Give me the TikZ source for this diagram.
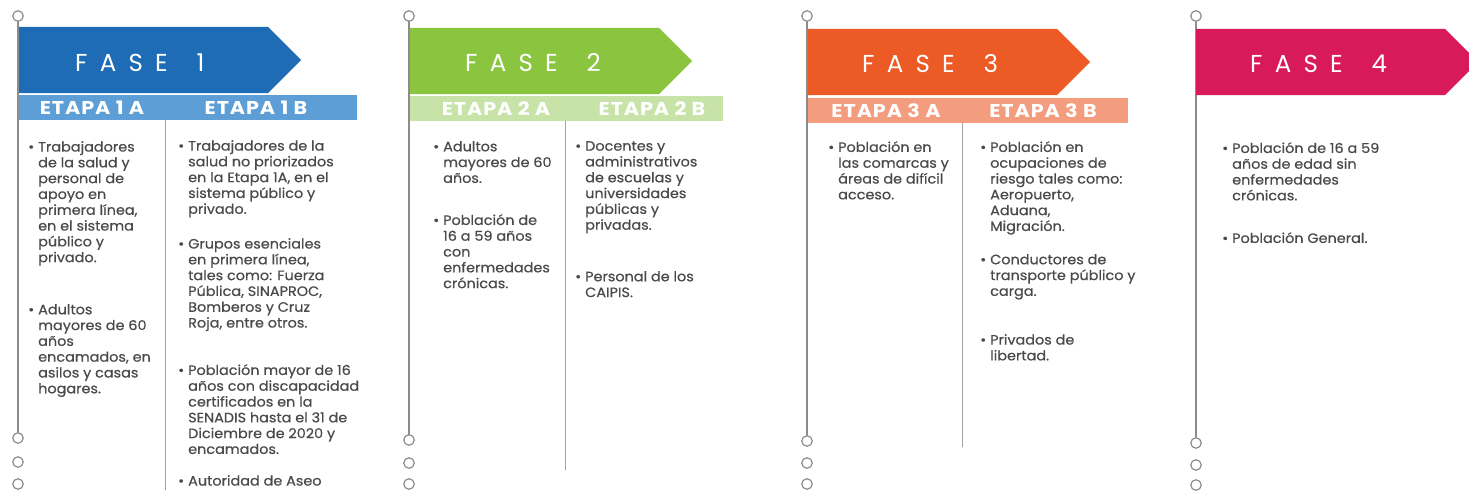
\documentclass[tikz,border=0pt]{standalone}
\usepackage{fontspec}
\setmainfont{Poppins}[FakeStretch=1.06,FakeBold=0.6]
\newfontfamily\fasefont[LetterSpace=50]{Poppins}
\newfontfamily\etapafont[LetterSpace=5,FakeStretch=1.12]{Poppins}
\definecolor{azul}{HTML}{1D6CB5}
\definecolor{azulcl}{HTML}{5D9ED6}
\definecolor{verde}{HTML}{8BC540}
\definecolor{verdecl}{HTML}{C8E3A8}
\definecolor{naranja}{HTML}{EC5A26}
\definecolor{naranjacl}{HTML}{F39C7E}
\definecolor{rosa}{HTML}{D81A5B}
\definecolor{texto}{HTML}{4A4A4A}
\definecolor{poste}{HTML}{8C8C8C}
\newcommand{\vin}{\llap{\textbullet\hspace{4pt}}}
\begin{document}
\begin{tikzpicture}[x=1pt,y=-1pt,line join=round,line cap=round,
	ring/.style={circle,draw=poste,line width=1.2pt,fill=white,minimum size=10.5pt,inner sep=0pt},
	poste/.style={draw=poste,line width=1.5pt},
	sep/.style={draw=poste!80,line width=0.9pt},
	fase/.style={anchor=base west,inner sep=0pt,text=white,font=\fasefont\fontsize{24.5}{24}\selectfont},
	etapa/.style={inner sep=0pt,text=white,font=\etapafont\bfseries\fontsize{18.5}{18}\selectfont},
	item/.style={anchor=north west,align=left,inner sep=0pt,text=texto,font=\fontsize{13.6}{15.8}\selectfont}]
	\useasboundingbox (0,0) rectangle (1469,495);
	%\draw[gray!30] (0,0) grid[step=50] (1469,495);
	% postes y anillos
	\foreach \x/\n/\a/\b/\c in {18/1/438/462/484, 409/2/440/463/484, 807/3/441/463/484, 1196/4/443/465/485}{
		\node[ring] (top\n) at (\x,16) {};
		\node[ring] (bot\n) at (\x,\a) {};
		\draw[poste] (top\n) -- (bot\n);
		\node[ring] (dos\n) at (\x,\b) {};
		\node[ring] (tres\n) at (\x,\c) {};
	}
	% banderas
	\foreach \x/\y/\c in {19/27/azul, 410/28/verde, 808/29/naranja, 1196/29/rosa}
	\fill[\c] (\x,\y) -- ++(249,0) -- ++(33,33) -- ++(-33,33) -- ++(-249,0) -- cycle;
	\fill[azulcl] (19,95) rectangle (357,120);
	\fill[verdecl] (410,96) rectangle (723,121);
	\fill[naranjacl] (808,98) rectangle (1128,123);
	\draw[sep] (165,120) -- (165,490);
	\draw[sep] (565,121) -- (565,470);
	\draw[sep] (962,123) -- (962,447);
	% titulos
	\node[fase] (f1) at (75,71) {FASE\hspace{10pt} 1};
	\node[fase] (f2) at (465,71) {FASE\hspace{10pt} 2};
	\node[fase] (f3) at (862,73) {FASE\hspace{10pt} 3};
	\node[fase] (f4) at (1250,73) {FASE\hspace{10pt} 4};
	\node[etapa] (e1a) at (92,108) {ETAPA 1 A};
	\node[etapa] (e1b) at (256,108) {ETAPA 1 B};
	\node[etapa] (e2a) at (496,109) {ETAPA 2 A};
	\node[etapa] (e2b) at (652,109) {ETAPA 2 B};
	\node[etapa] (e3a) at (886,111) {ETAPA 3 A};
	\node[etapa] (e3b) at (1043,111) {ETAPA 3 B};
	% fase 1
	\node[item] (a11) at (38,141) {\vin Trabajadores\\de la salud y\\personal de\\apoyo en\\primera línea,\\en el sistema\\público y\\privado.};
	\node[item] (a12) at (38,304) {\vin Adultos\\mayores de 60\\años\\encamados, en\\asilos y casas\\hogares.};
	\node[item] (b11) at (188,140) {\vin Trabajadores de la\\salud no priorizados\\en la Etapa 1A, en el\\sistema público y\\privado.};
	\node[item] (b12) at (188,238) {\vin Grupos esenciales\\en primera línea,\\tales como: Fuerza\\Pública, SINAPROC,\\Bomberos y Cruz\\Roja, entre otros.};
	\node[item] (b13) at (188,364) {\vin Población mayor de 16\\años con discapacidad\\certificados en la\\SENADIS hasta el 31 de\\Diciembre de 2020 y\\encamados.};
	\node[item] (b14) at (188,475) {\vin Autoridad de Aseo};
	% fase 2
	\node[item] (a21) at (443,141) {\vin Adultos\\mayores de 60\\años.};
	\node[item] (a22) at (443,214) {\vin Población de\\16 a 59 años\\con\\enfermedades\\crónicas.};
	\node[item] (b21) at (585,141) {\vin Docentes y\\administrativos\\de escuelas y\\universidades\\públicas y\\privadas.};
	\node[item] (b22) at (585,271) {\vin Personal de los\\CAIPIS.};
	% fase 3
	\node[item] (a31) at (838,141) {\vin Población en\\las comarcas y\\áreas de difícil\\acceso.};
	\node[item] (b31) at (990,141) {\vin Población en\\ocupaciones de\\riesgo tales como:\\Aeropuerto,\\Aduana,\\Migración.};
	\node[item] (b32) at (990,254) {\vin Conductores de\\transporte público y\\carga.};
	\node[item] (b33) at (990,334) {\vin Privados de\\libertad.};
	% fase 4
	\node[item] (a41) at (1232,142) {\vin Población de 16 a 59\\años de edad sin\\enfermedades\\crónicas.};
	\node[item] (a42) at (1232,232) {\vin Población General.};
\end{tikzpicture}
\end{document}
